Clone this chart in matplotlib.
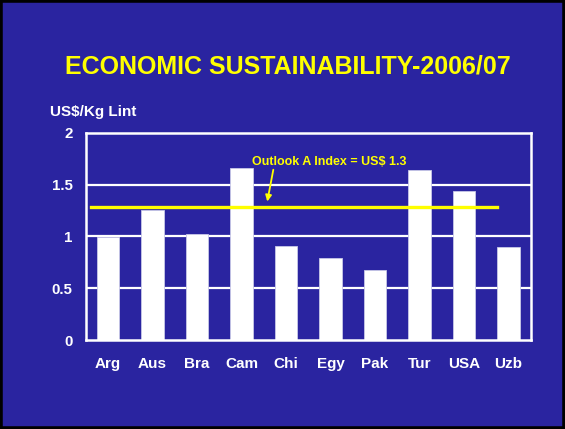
import matplotlib
matplotlib.use("Agg")
import matplotlib.pyplot as plt
from matplotlib.patches import Rectangle

categories = ["Arg", "Aus", "Bra", "Cam", "Chi", "Egy", "Pak", "Tur", "USA", "Uzb"]
values = [0.99, 1.25, 1.02, 1.66, 0.91, 0.79, 0.68, 1.64, 1.44, 0.90]
index_value = 1.28
yticks = [0, 0.5, 1, 1.5, 2]
ytick_labels = ["0", "0.5", "1", "1.5", "2"]

BG = "#2A24A0"
YEL = "#FFFF00"
plt.rcParams['font.family'] = ['Liberation Sans', 'DejaVu Sans']

fig = plt.figure(figsize=(5.65, 4.29), dpi=100)
fig.patch.set_facecolor(BG)
fig.patches.append(Rectangle((0, 0), 1, 1, transform=fig.transFigure, fill=False,
                             edgecolor="black", linewidth=4, zorder=10))

W, H = 565, 429
l, r, t, b = 85.7, 530.7, 132.7, 340
ax = fig.add_axes([l / W, 1 - b / H, (r - l) / W, (b - t) / H])
ax.set_facecolor(BG)
ax.set_xlim(-0.5, len(categories) - 0.5)
ax.set_ylim(0, 2)

for yv in yticks[1:-1]:
    ax.axhline(yv, color="white", linewidth=1.6, zorder=1)

ax.bar(range(len(categories)), values, width=0.51, color="white",
       edgecolor="#C8C8E8", linewidth=0.6, zorder=2)

ax.plot([-0.37, 8.74], [index_value, index_value], color=YEL, linewidth=2.4, zorder=3)

for s in ax.spines.values():
    s.set_color("white")
    s.set_linewidth(1.8)

ax.set_yticks(yticks)
ax.set_yticklabels(ytick_labels)
ax.set_xticks(range(len(categories)))
ax.set_xticklabels(categories)
ax.tick_params(axis="both", length=0, colors="white")
ax.tick_params(axis="y", pad=9.4, labelsize=10.8)
ax.tick_params(axis="x", pad=12.5, labelsize=11)
for lab in ax.get_xticklabels() + ax.get_yticklabels():
    lab.set_fontweight("bold")

ax.text(3.23, 1.72, "Outlook A Index = US$ 1.3", color=YEL, fontsize=9,
        fontweight="bold", ha="left", va="center", zorder=4)
ax.annotate("", xy=(3.58, 1.336), xytext=(3.716, 1.643),
            xycoords="data", textcoords="data",
            arrowprops=dict(arrowstyle="-|>", color=YEL, lw=1.3, mutation_scale=9,
                            shrinkA=0, shrinkB=0),
            zorder=4)

fig.text(288 / W, 1 - 74 / H, "ECONOMIC SUSTAINABILITY-2006/07", color=YEL,
         fontsize=18, fontweight="bold", ha="center", va="baseline")
fig.text(50 / W, 1 - 116 / H, "US$/Kg Lint", color="white", fontsize=11,
         fontweight="bold", ha="left", va="baseline")

fig.savefig("out.png", dpi=100, facecolor=BG)
